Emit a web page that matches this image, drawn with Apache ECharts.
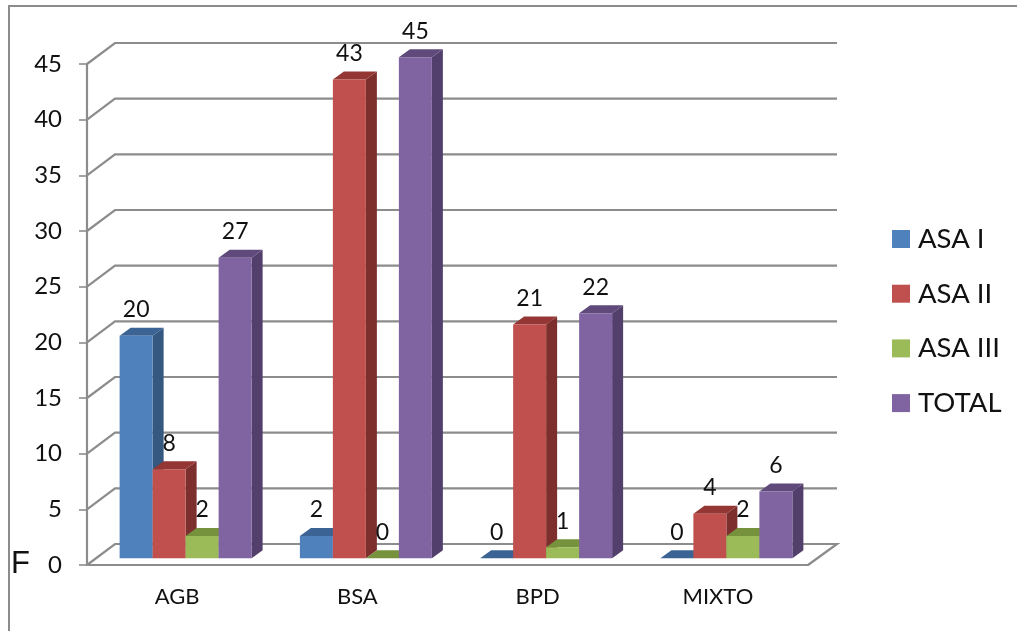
<!DOCTYPE html>
<html><head><meta charset="utf-8">
<style>html,body{margin:0;padding:0;background:#fff}#c{width:1017px;height:631px}</style>
<script src="https://cdn.jsdelivr.net/npm/echarts@6/dist/echarts.min.js"></script>
</head><body><div id="c"></div>
<script>
const categories = ['AGB','BSA','BPD','MIXTO'];
const yTicks = [0,5,10,15,20,25,30,35,40,45];
const asaI = [20,2,0,0];
const asaII = [8,43,21,4];
const asaIII = [2,0,1,2];
const total = [27,45,22,6];

const FONT = 'Lato';
const GRID = '#8c8c8c';
const seriesDefs = [
  {name:'ASA I', values:asaI, front:'#4F81BD', side:'#34587F', top:'#3B6494'},
  {name:'ASA II', values:asaII, front:'#C0504D', side:'#7D2F2D', top:'#943634'},
  {name:'ASA III', values:asaIII, front:'#9BBB59', side:'#5F7530', top:'#76923C'},
  {name:'TOTAL', values:total, front:'#8064A2', side:'#533F6C', top:'#604A7B'}
];
const BAR_W = 33, DX = 11, DY = 8, WALL_X = 28, WALL_Y = 21, BAR_SHIFT = 8.5, BAR_LIFT = 6.7;

function renderWall(params, api){
  const cs = params.coordSys;
  const y = api.coord([0, api.value(1)])[1];
  const lineStyle = {stroke:GRID, lineWidth:2.2, fill:null};
  const pts = [[cs.x, y],[cs.x+WALL_X, y-WALL_Y],[cs.x+cs.width+WALL_X+1, y-WALL_Y]];
  if (api.value(1) === 0) pts.push([cs.x+cs.width, y]);
  return {type:'polyline', shape:{points:pts}, style:lineStyle, silent:true};
}
function makeBar(def, idx){
  return function(params, api){
    const cat = api.value(0), v = api.value(1);
    const c = api.coord([cat, v]), base = api.coord([cat, 0]);
    const x0 = c[0] + BAR_SHIFT + (idx-2)*BAR_W, x1 = x0 + BAR_W;
    const yb = base[1] - BAR_LIFT, yt = yb - (base[1]-c[1]);
    const kids = [
      {type:'polygon', shape:{points:[[x1,yb],[x1+DX,yb-DY],[x1+DX,yt-DY],[x1,yt]]}, style:{fill:def.side}},
      {type:'polygon', shape:{points:[[x0,yt],[x0+DX,yt-DY],[x1+DX,yt-DY],[x1,yt]]}, style:{fill:def.top}},
      {type:'rect', shape:{x:x0,y:yt,width:BAR_W,height:yb-yt}, style:{fill:def.front}},
      {type:'text', z2:100, style:{x:(x0+x1)/2, y:yt-26, text:String(v), fill:'#111', font:'23px '+FONT, textAlign:'center', textVerticalAlign:'middle'}}
    ];
    return {type:'group', children:kids};
  };
}

const chart = echarts.init(document.getElementById('c'), null, {renderer:'canvas'});
chart.setOption({
  animation:false,
  backgroundColor:'#fff',
  grid:{left:87, right:209, top:64, bottom:66},
  legend:{
    orient:'vertical', left:892, top:225, padding:0, itemWidth:18, itemHeight:18, itemGap:26.7,
    icon:'rect', selectedMode:false,
    textStyle:{fontFamily:FONT, fontSize:27.5, lineHeight:28, color:'#111', padding:[0,0,0,3]},
    data:seriesDefs.map(d=>d.name)
  },
  xAxis:{type:'category', data:categories,
    axisLine:{lineStyle:{color:GRID,width:2.2}}, axisTick:{show:false},
    axisLabel:{fontFamily:FONT, fontSize:22, color:'#111', margin:21}},
  yAxis:{type:'value', min:0, max:45, interval:5,
    axisLine:{show:true, lineStyle:{color:GRID,width:2.2}},
    axisTick:{show:true, length:8, lineStyle:{color:GRID,width:1.6}},
    splitLine:{show:false},
    axisLabel:{fontFamily:FONT, fontSize:24, color:'#111', margin:25, padding:[5,0,0,0]}},
  graphic:[
    {type:'polyline', shape:{points:[[9,631],[9,6],[1017,6]]}, style:{stroke:GRID,lineWidth:2,fill:null}, silent:true},
    {type:'text', left:11, top:549, style:{text:'F', font:'31px "Liberation Sans"', fill:'#111'}, silent:true}
  ],
  series:[
    {type:'custom', name:'wall', data:yTicks.map(t=>[0,t]), renderItem:renderWall, z:1, silent:true, encode:{x:0,y:1}}
  ].concat(seriesDefs.map((d,i)=>({
    type:'custom', name:d.name, renderItem:makeBar(d,i), z:3+i, silent:true,
    itemStyle:{color:d.front}, encode:{x:0,y:1},
    data:d.values.map((v,k)=>[k,v])
  })))
});
</script></body></html>
